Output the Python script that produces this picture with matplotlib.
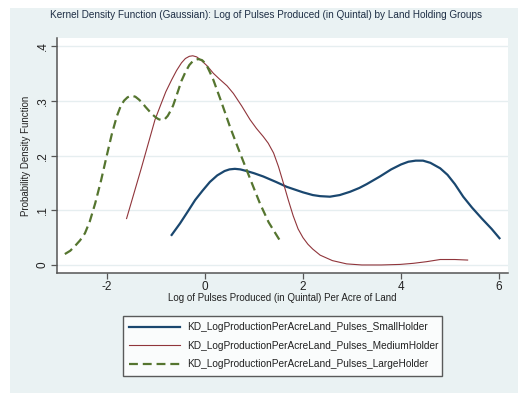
import matplotlib
matplotlib.use('Agg')
import matplotlib.pyplot as plt
from matplotlib.patches import Rectangle

plt.rcParams['font.family'] = ['Liberation Sans', 'DejaVu Sans']

# --- 데이터 ---
small_x = [-0.68, -0.51, -0.35, -0.20, -0.05, 0.10, 0.25, 0.40, 0.50, 0.61, 0.72, 0.85, 1.00, 1.19,
           1.45, 1.67, 2.00, 2.20, 2.35, 2.55, 2.75, 2.96, 3.15, 3.30, 3.57, 3.80, 4.00, 4.15, 4.30,
           4.45, 4.60, 4.80, 4.95, 5.10, 5.27, 5.45, 5.65, 5.85, 6.01]
small_y = [0.055, 0.076, 0.098, 0.119, 0.136, 0.152, 0.164, 0.172, 0.175, 0.176, 0.175, 0.172, 0.168, 0.162,
           0.152, 0.143, 0.133, 0.128, 0.126, 0.125, 0.128, 0.134, 0.141, 0.148, 0.162, 0.175, 0.184, 0.189, 0.191,
           0.191, 0.187, 0.177, 0.165, 0.148, 0.125, 0.105, 0.085, 0.066, 0.049]

medium_x = [-1.60, -1.30, -1.02, -0.90, -0.80, -0.68, -0.58, -0.48, -0.40, -0.32, -0.25, -0.17, -0.08,
            0.05, 0.17, 0.30, 0.45, 0.58, 0.75, 0.92, 1.05, 1.19, 1.29, 1.40, 1.50, 1.60, 1.70, 1.80,
            1.90, 2.00, 2.10, 2.20, 2.35, 2.60, 2.89, 3.20, 3.60, 3.98, 4.25, 4.52, 4.80, 5.10, 5.36]
medium_y = [0.085, 0.177, 0.266, 0.294, 0.317, 0.339, 0.356, 0.370, 0.378, 0.382, 0.383, 0.381, 0.375,
            0.364, 0.351, 0.340, 0.328, 0.314, 0.291, 0.266, 0.250, 0.235, 0.223, 0.205, 0.180, 0.150, 0.119, 0.090,
            0.066, 0.050, 0.038, 0.029, 0.018, 0.008, 0.002, 0.000, 0.000, 0.001, 0.003, 0.006, 0.010, 0.010, 0.009]

large_x = [-2.86, -2.75, -2.65, -2.55, -2.45, -2.35, -2.24, -2.12, -2.01, -1.90, -1.80, -1.72, -1.65,
           -1.58, -1.50, -1.42, -1.35, -1.28, -1.22, -1.15, -1.08, -1.00, -0.95, -0.88, -0.82, -0.76,
           -0.71, -0.65, -0.60, -0.54, -0.48, -0.40, -0.32, -0.24, -0.14, -0.06, 0.02, 0.10, 0.17,
           0.34, 0.51, 0.68, 0.85, 1.00, 1.12, 1.30, 1.52]
large_y = [0.020, 0.026, 0.035, 0.045, 0.058, 0.080, 0.113, 0.155, 0.198, 0.240, 0.272, 0.291, 0.301,
           0.307, 0.310, 0.308, 0.303, 0.297, 0.290, 0.283, 0.276, 0.270, 0.267, 0.265, 0.267, 0.273,
           0.281, 0.292, 0.305, 0.321, 0.337, 0.353, 0.366, 0.374, 0.377, 0.375, 0.368, 0.353, 0.339,
           0.297, 0.253, 0.213, 0.174, 0.140, 0.113, 0.078, 0.046]

labels = ['KD_LogProductionPerAcreLand_Pulses_SmallHolder',
          'KD_LogProductionPerAcreLand_Pulses_MediumHolder',
          'KD_LogProductionPerAcreLand_Pulses_LargeHolder']

xticks = [-2, 0, 2, 4, 6]
yticks = [0, 0.1, 0.2, 0.3, 0.4]
yticklabels = ['0', '.1', '.2', '.3', '.4']

# --- 그래프 생성 ---
bg = '#EAF2F3'
fig = plt.figure(figsize=(5.18, 3.93), dpi=100, facecolor='white')
fig.patches.append(Rectangle((10 / 518, 0), 1, 1 - 8 / 393, transform=fig.transFigure,
                             facecolor=bg, edgecolor='none', zorder=-10))

ax = fig.add_axes([57 / 518, 1 - 273 / 393, (508.3 - 57) / 518, (273 - 38.3) / 393])
ax.set_facecolor('white')

ax.plot(small_x, small_y, color='#1A476F', lw=1.6, label=labels[0])
ax.plot(medium_x, medium_y, color='#90353B', lw=0.8, label=labels[1])
ax.plot(large_x, large_y, color='#55752F', lw=1.6, ls=(0, (4, 2.2)), label=labels[2])

ax.set_xlim(-3.02, 6.19)
ax.set_ylim(-0.0147, 0.415)
ax.set_xticks(xticks)
ax.set_xticklabels([str(t) for t in xticks], fontsize=8.5, color='#222222')
ax.set_yticks(yticks)
ax.set_yticklabels(yticklabels, fontsize=8.5, rotation=90, va='center', color='#222222')
ax.grid(True, axis='y', color='#E6EEF0', lw=1.0)
ax.set_axisbelow(True)
for s in ['top', 'right']:
    ax.spines[s].set_visible(False)
for s in ['left', 'bottom']:
    ax.spines[s].set_color('#555555')
    ax.spines[s].set_linewidth(1.1)
ax.tick_params(direction='out', length=4, width=0.9, color='#555555', pad=2)

ax.set_xlabel('Log of Pulses Produced (in Quintal) Per Acre of Land', fontsize=7, labelpad=0, color='#222222')
ax.set_ylabel('Probability Density Function', fontsize=7, labelpad=4, color='#222222')
fig.text(266 / 518, 1 - 15 / 393, 'Kernel Density Function (Gaussian): Log of Pulses Produced (in Quintal) by Land Holding Groups',
         ha='center', va='center', fontsize=7.2, color='#1E2E45')

leg = fig.legend(loc='upper left', bbox_to_anchor=(117.7 / 518, 1 - 315 / 393, (446.7 - 117.7) / 518, 0.01),
                 mode='expand', fontsize=7.3, handlelength=5.0, labelspacing=0.85,
                 fancybox=False, frameon=True, borderpad=0.6, handletextpad=0.7)
leg.get_frame().set_edgecolor('#333333')
leg.get_frame().set_linewidth(1.0)
for t in leg.get_texts():
    t.set_color('#222222')

plt.savefig('out.png', dpi=100, facecolor=fig.get_facecolor())
